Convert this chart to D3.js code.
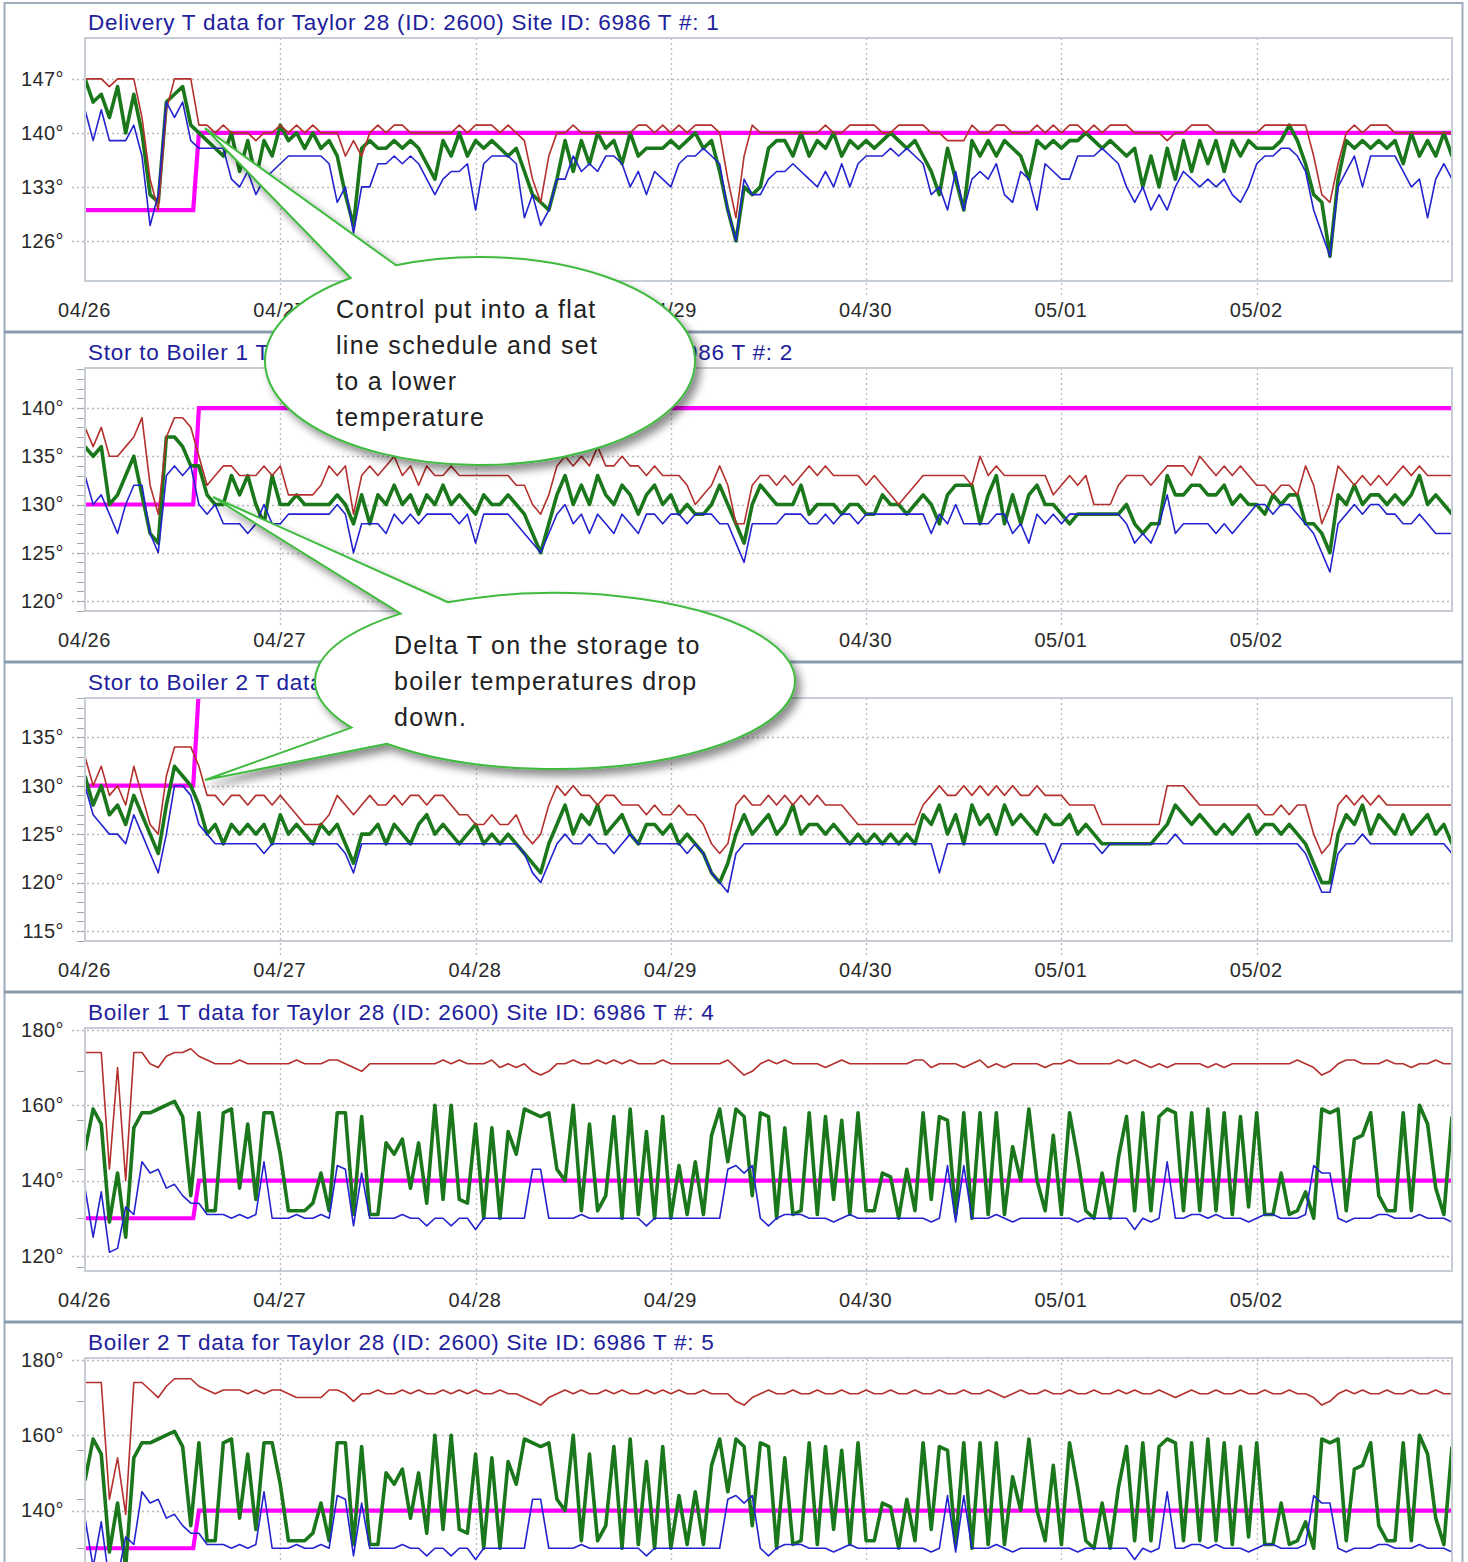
<!DOCTYPE html>
<html>
<head>
<meta charset="utf-8">
<script src="https://cdn.jsdelivr.net/npm/d3@7"></script>
<style>
  html, body { margin: 0; padding: 0; background: #fff; overflow: hidden; }
  svg { display: block; }
  text { font-family: Arial, "Liberation Sans", sans-serif; }
</style>
</head>
<body>
<svg id="chart" width="1468" height="1562"></svg>
<script>
// ---------- axis labels ----------
const dayLabels = ["04/26", "04/27", "04/28", "04/29", "04/30", "05/01", "05/02"];
const dayHours = [0, 24, 48, 72, 96, 120, 144];

const titles = [
  "Delivery T data for Taylor 28 (ID: 2600) Site ID: 6986 T #: 1",
  "Stor to Boiler 1 T data for Taylor 28 (ID: 2600) Site ID: 6986 T #: 2",
  "Stor to Boiler 2 T data for Taylor 28 (ID: 2600) Site ID: 6986 T #: 3",
  "Boiler 1 T data for Taylor 28 (ID: 2600) Site ID: 6986 T #: 4",
  "Boiler 2 T data for Taylor 28 (ID: 2600) Site ID: 6986 T #: 5"
];

const yTicks1 = [126, 133, 140, 147];
const yTicks2 = [120, 125, 130, 135, 140];
const yTicks3 = [115, 120, 125, 130, 135];
const yTicks4 = [120, 140, 160, 180];
const yTicks5 = [140, 160, 180];          // the lower part of this panel runs off the page
const minorTicks4 = [117, 130, 143, 156, 169];

// day labels that sit fully underneath a note bubble
const coveredDays = [[2], [2, 3], [], [], []];

// ---------- setpoint (magenta) steps: hour of change and value ----------
const setpointHours = [0, 13.3, 14, 168];
const setpoint1 = [130, 130, 140, 140];
const setpoint2 = [130, 130, 140, 140];
const setpoint3 = [130, 130, 140, 140];
const setpoint4 = [130, 130, 140, 140];
const setpoint5 = [130, 130, 140, 140];

// ---------- hourly readings, 04/26 00:00 .. 05/03 00:00 ----------
// Delivery
const red1 = [
147,147,147,146,147,147,147,142,134,130,
143,147,147,147,141,141,140,141,140,140,
140,139,140,140,141,140,141,140,141,140,
140,140,137,139,137,140,141,140,141,141,
140,140,140,140,140,140,141,140,141,141,
141,140,141,140,139,134,131,137,140,140,
141,140,140,140,140,140,140,140,141,141,
140,141,140,141,140,141,141,141,140,134,
129,137,141,140,140,140,140,140,140,140,
140,141,140,140,141,141,141,141,140,140,
141,141,141,141,140,140,139,139,139,141,
140,140,141,141,140,140,140,141,140,141,
140,141,141,140,141,140,141,141,141,140,
140,140,140,139,140,140,141,141,141,140,
140,140,140,140,140,141,141,141,141,141,
141,137,132,131,136,140,141,140,141,141,
141,140,140,140,140,140,140,140,140];
const green1 = [
147,144,145,142,146,140,145,140,132,131,
144,145,146,141,140,139,138,137,140,135,
139,134,139,137,141,139,140,138,140,138,
139,137,132,128,138,139,138,138,139,138,
139,138,136,134,139,137,140,137,139,138,
139,138,137,138,135,132,131,130,134,139,
135,139,136,140,138,139,136,140,137,138,
138,138,139,138,139,140,138,139,135,130,
126,133,132,133,138,139,139,137,140,137,
139,138,140,137,139,138,139,138,139,140,
139,138,139,137,135,132,138,134,130,139,
137,139,137,139,138,137,134,139,138,139,
138,139,139,140,139,138,139,138,137,138,
133,137,133,138,134,139,135,139,136,139,
135,139,137,139,138,138,138,139,141,139,
136,132,131,124,134,139,138,139,138,139,
138,139,136,140,137,139,137,140,137];
const blue1 = [
143,139,143,139,139,139,141,137,128,132,
144,142,144,139,138,138,138,138,134,133,
135,132,134,135,136,137,137,137,137,137,
136,131,133,127,133,133,136,136,137,136,
137,136,134,132,134,135,135,136,130,136,
137,137,137,136,129,132,128,130,134,134,
137,135,136,135,137,137,136,133,135,132,
135,134,133,136,137,137,138,137,136,130,
126,134,132,132,134,135,135,136,135,134,
133,135,133,136,133,136,137,137,137,138,
137,138,137,136,132,133,130,135,130,134,
135,134,136,132,131,135,134,130,136,135,
134,134,137,137,137,138,137,136,133,131,
133,130,132,130,133,135,134,133,134,133,
134,132,131,133,136,137,137,138,138,137,
135,130,127,124,133,135,137,133,137,137,
137,137,135,133,134,129,134,136,134];

// Storage to boiler 1
const red2 = [
138,136,138,135,135,136,137,139,132,129,
137,139,139,138,135,132,133,134,134,133,
133,133,134,133,134,131,131,131,131,132,
134,133,134,129,133,134,133,134,135,133,
134,132,134,133,133,134,133,133,133,133,
133,133,133,132,132,130,129,131,134,135,
134,135,134,136,134,134,135,134,134,133,
134,133,133,133,132,130,131,132,134,132,
128,128,132,133,133,132,133,132,133,134,
133,134,133,133,133,133,132,133,132,131,
130,131,132,133,133,133,133,133,133,132,
135,133,134,133,133,133,133,133,133,131,
132,133,132,133,130,130,130,132,133,133,
133,132,133,134,134,134,133,135,134,133,
134,133,134,133,132,132,131,132,132,131,
134,132,128,130,134,133,132,133,132,133,
132,133,134,133,134,133,133,133,133];
const green2 = [
136,135,136,130,131,133,135,131,127,126,
137,137,136,134,134,131,130,130,133,131,
133,130,128,133,130,130,131,130,130,130,
130,131,130,128,131,128,131,130,132,130,
131,129,131,130,132,130,131,130,129,131,
130,130,131,130,129,127,125,128,131,133,
130,132,130,133,131,130,132,131,129,131,
132,130,131,129,130,129,129,130,132,130,
128,126,130,132,131,130,130,130,132,129,
130,130,130,129,130,130,129,129,131,130,
130,129,130,131,130,128,131,132,132,132,
128,131,133,128,131,128,131,132,130,130,
129,128,129,129,129,129,129,129,130,128,
127,128,128,133,131,131,132,132,131,131,
132,130,131,130,130,129,131,130,131,131,
128,128,127,125,131,130,132,130,131,131,
130,131,130,131,133,130,131,130,129];
const blue2 = [
133,130,131,129,127,130,132,132,127,125,
133,134,133,134,130,129,130,128,128,128,
127,128,130,128,128,129,129,129,129,129,
129,130,129,125,128,128,128,127,129,128,
129,128,129,129,129,129,128,129,126,129,
129,129,129,128,127,126,125,127,129,130,
128,129,127,129,128,127,129,128,127,129,
129,128,129,129,128,129,129,129,128,128,
126,124,128,128,128,128,129,129,129,128,
128,129,128,129,129,128,129,129,129,129,
129,129,129,129,127,129,128,130,128,128,
128,128,129,129,127,128,126,129,128,129,
128,129,129,129,129,129,129,129,128,126,
127,126,128,131,127,128,128,128,128,127,
128,127,128,129,130,130,129,130,130,129,
128,127,125,123,128,129,130,129,130,130,
129,129,128,128,129,128,127,127,127];

// Storage to boiler 2
const red3 = [
133,130,132,129,130,128,132,129,126,125,
131,134,134,134,132,129,129,128,129,129,
128,129,129,128,129,128,127,126,126,126,
127,129,128,127,128,129,128,128,129,128,
129,129,128,129,129,128,127,127,126,126,
127,126,126,127,125,124,125,128,130,129,
130,129,129,128,129,129,128,128,128,127,
128,127,127,128,127,127,126,124,123,124,
128,129,128,128,129,128,129,128,129,128,
129,128,128,128,127,126,126,126,126,126,
126,126,126,128,129,130,129,129,130,129,
130,129,130,129,130,129,129,130,129,129,
129,128,128,128,128,126,126,126,126,126,
126,126,126,130,130,130,129,128,128,128,
128,128,128,128,128,127,127,128,127,128,
128,125,123,124,128,129,128,129,128,129,
128,128,128,128,128,128,128,128,128];
const green3 = [
131,128,130,127,128,126,129,127,125,123,
128,132,131,130,128,125,126,124,126,125,
126,125,126,124,127,125,126,125,124,126,
125,126,124,122,125,125,126,124,126,125,
124,126,127,125,126,125,124,125,126,124,
125,124,125,124,123,122,121,124,126,128,
125,127,126,128,125,126,127,125,124,126,
126,125,126,124,125,124,123,121,120,122,
125,127,125,126,127,125,126,128,125,126,
126,125,126,125,124,125,124,125,124,125,
124,125,124,127,126,128,125,127,124,128,
126,127,125,128,126,127,126,125,127,126,
126,127,125,126,125,124,124,124,124,124,
124,124,125,126,128,127,126,127,126,125,
126,125,126,127,125,126,126,125,126,125,
124,122,120,120,125,127,126,128,125,127,
126,125,127,125,126,127,125,126,124];
const blue3 = [
130,127,126,125,125,124,127,125,123,121,
125,130,130,129,126,125,124,124,124,124,
124,124,123,124,124,124,124,124,124,124,
124,124,123,121,124,124,124,124,124,124,
124,124,124,124,124,124,124,124,124,124,
124,124,124,124,123,121,120,122,124,125,
124,124,125,124,124,123,124,125,124,124,
124,124,124,124,123,124,123,121,120,119,
123,124,124,124,124,124,124,124,124,124,
124,124,124,124,124,124,124,124,124,124,
124,124,124,124,124,121,124,124,124,124,
124,124,124,124,124,124,124,124,124,122,
124,124,124,124,124,123,124,124,124,124,
124,124,124,124,125,124,124,124,124,124,
124,124,124,124,124,124,124,124,124,124,
123,121,119,119,123,124,124,125,124,124,
124,124,124,124,124,124,124,124,123];

// Boiler 1
const red4 = [
174,174,174,143,170,140,174,174,171,170,
173,174,174,175,173,172,171,171,171,172,
171,171,171,171,171,171,172,171,171,171,
172,172,171,170,169,171,171,171,171,171,
171,171,171,171,172,171,172,171,171,171,
172,170,171,170,171,169,168,169,171,171,
172,171,171,172,171,172,171,172,171,171,
171,172,171,171,171,171,171,171,171,172,
170,168,169,171,172,171,172,171,171,171,
171,170,171,172,171,171,171,171,171,171,
171,171,172,172,170,171,171,171,170,171,
172,170,171,170,171,171,171,171,170,171,
171,172,171,171,171,171,171,172,171,172,
171,170,171,170,171,171,171,171,170,171,
170,171,171,171,171,171,171,171,171,172,
171,170,168,169,171,172,172,171,171,171,
172,171,171,170,171,171,172,171,171];
const green4 = [
148,159,155,129,142,125,154,158,158,159,
160,161,157,136,158,132,132,158,159,138,
155,135,158,158,147,132,132,132,134,142,
132,158,158,131,157,131,131,150,147,151,
138,150,134,160,135,160,135,134,155,130,
154,130,153,147,159,158,157,158,143,140,
160,132,155,132,136,157,130,159,131,153,
130,157,130,144,131,145,131,152,159,145,
159,157,136,158,157,130,154,131,132,158,
131,157,135,156,131,158,132,132,142,141,
130,143,132,158,135,157,156,131,158,130,
158,131,158,131,149,140,159,140,132,152,
131,158,146,132,130,142,130,146,157,132,
158,132,157,159,158,132,158,132,159,132,
158,131,157,133,158,131,131,142,131,132,
137,130,159,158,159,132,151,152,158,136,
132,132,158,132,160,155,138,131,157];
const blue4 = [
138,125,137,121,122,133,131,145,142,143,
138,139,136,134,134,131,131,131,130,131,
130,131,145,130,130,130,131,130,130,131,
130,144,143,128,142,130,130,130,130,131,
130,130,128,130,130,128,130,130,127,130,
130,130,130,130,130,143,143,130,130,130,
130,131,130,130,130,130,130,130,130,128,
130,130,130,130,130,130,130,130,130,143,
144,142,144,130,128,130,131,131,131,130,
130,130,129,130,131,130,130,130,130,130,
130,130,130,130,129,130,144,129,144,130,
130,130,131,130,129,130,130,130,130,130,
130,130,129,130,130,130,130,130,130,127,
130,129,130,145,130,130,131,131,130,131,
130,130,130,129,130,131,131,130,130,130,
131,144,142,142,130,129,130,130,130,131,
131,130,130,130,131,130,130,130,129];

// Boiler 2
const red5 = [
174,174,174,143,154,139,174,174,172,170,
173,175,175,175,173,172,171,172,172,172,
171,172,171,172,172,171,170,170,170,170,
172,172,171,169,171,171,172,171,171,172,
171,172,171,171,172,171,172,171,172,171,
171,172,171,171,170,169,168,170,171,172,
171,172,171,171,172,171,172,171,171,172,
171,172,171,172,171,171,172,171,171,171,
169,168,170,171,172,171,171,172,171,171,
172,171,171,172,171,171,172,171,171,172,
171,171,172,171,171,172,171,171,172,171,
171,172,171,170,171,172,171,171,172,171,
171,172,171,171,172,171,171,172,171,172,
171,171,172,171,170,171,172,171,171,172,
171,171,172,171,171,172,171,171,172,171,
171,170,168,169,171,172,171,172,171,171,
172,171,171,172,171,171,172,171,171];
const green5 = [
148,159,155,129,142,125,154,158,158,159,
160,161,157,136,158,132,132,158,159,138,
155,135,158,158,147,132,132,132,134,142,
132,158,158,131,157,131,131,150,147,151,
138,150,134,160,135,160,135,134,155,130,
154,130,153,147,159,158,157,158,143,140,
160,132,155,132,136,157,130,159,131,153,
130,157,130,144,131,145,131,152,159,145,
159,157,136,158,157,130,154,131,132,158,
131,157,135,156,131,158,132,132,142,141,
130,143,132,158,135,157,156,131,158,130,
158,131,158,131,149,140,159,140,132,152,
131,158,146,132,130,142,130,146,157,132,
158,132,157,159,158,132,158,132,159,132,
158,131,157,133,158,131,131,142,131,132,
137,130,159,158,159,132,151,152,158,136,
132,132,158,132,160,155,138,131,157];
const blue5 = [
138,125,137,121,122,133,131,145,142,143,
138,139,136,134,134,131,131,131,130,131,
130,131,145,130,130,130,131,130,130,131,
130,144,143,128,142,130,130,130,130,131,
130,130,128,130,130,128,130,130,127,130,
130,130,130,130,130,143,143,130,130,130,
130,131,130,130,130,130,130,130,130,128,
130,130,130,130,130,130,130,130,130,143,
144,142,144,130,128,130,131,131,131,130,
130,130,129,130,131,130,130,130,130,130,
130,130,130,130,129,130,144,129,144,130,
130,130,131,130,129,130,130,130,130,130,
130,130,129,130,130,130,130,130,130,127,
130,129,130,145,130,130,131,131,130,131,
130,130,130,129,130,131,131,130,130,130,
131,144,142,142,130,129,130,130,130,131,
131,130,130,130,131,130,130,130,129];

// ---------- layout ----------
const PANEL_H = 330;
const PAGE_H = 1562;
const plot = { left: 85, right: 1452, top: 38, bottom: 281 };
const colors = { setpoint: "#ff00ff", red: "#b3302c", green: "#1b771b", blue: "#2323cf",
                 title: "#21219c", label: "#2a2a2a", grid: "#b9b9b9", frame: "#c6cdd5" };

const panels = [
  { title: titles[0], domain: [120.8, 152.3], ticks: yTicks1, minor: [],
    sp: setpoint1, red: red1, green: green1, blue: blue1 },
  { title: titles[1], domain: [118.96, 144.15], ticks: yTicks2, minor: d3.range(119, 145),
    sp: setpoint2, red: red2, green: green2, blue: blue2 },
  { title: titles[2], domain: [113.97, 139.05], ticks: yTicks3, minor: d3.range(114, 140),
    sp: setpoint3, red: red3, green: green3, blue: blue3 },
  { title: titles[3], domain: [116.0, 180.5], ticks: yTicks4, minor: minorTicks4,
    sp: setpoint4, red: red4, green: green4, blue: blue4 },
  { title: titles[4], domain: [116.0, 180.5], ticks: yTicks5, minor: minorTicks4,
    sp: setpoint5, red: red5, green: green5, blue: blue5 }
];

const svg = d3.select("#chart");
const x = d3.scaleLinear().domain([0, 168]).range([plot.left, plot.right]);

const defs = svg.append("defs");
defs.append("clipPath").attr("id", "plotClip")
  .append("rect")
  .attr("x", plot.left).attr("y", plot.top)
  .attr("width", plot.right - plot.left).attr("height", plot.bottom - plot.top);

const shadow = defs.append("filter").attr("id", "bubbleShadow")
  .attr("x", "-20%").attr("y", "-20%").attr("width", "150%").attr("height", "160%");
shadow.append("feGaussianBlur").attr("in", "SourceAlpha").attr("stdDeviation", 4);
shadow.append("feOffset").attr("dx", 5).attr("dy", 6).attr("result", "off");
shadow.append("feComponentTransfer").append("feFuncA").attr("type", "linear").attr("slope", 0.45);
const merge = shadow.append("feMerge");
merge.append("feMergeNode");
merge.append("feMergeNode").attr("in", "SourceGraphic");

svg.append("rect").attr("width", 1468).attr("height", PAGE_H).attr("fill", "#fff");

panels.forEach((p, i) => {
  const top = i * PANEL_H;
  const g = svg.append("g").attr("transform", `translate(0,${top})`);
  const y = d3.scaleLinear().domain(p.domain).range([plot.bottom, plot.top]);

  // horizontal dotted grid
  g.append("g").selectAll("line").data(p.ticks).join("line")
    .attr("x1", 72).attr("x2", plot.right)
    .attr("y1", d => Math.round(y(d)) + 0.5).attr("y2", d => Math.round(y(d)) + 0.5)
    .attr("stroke", colors.grid).attr("stroke-width", 1.3).attr("stroke-dasharray", "2,3");

  // vertical dotted grid at day boundaries
  g.append("g").selectAll("line").data(dayHours.slice(1)).join("line")
    .attr("x1", d => Math.round(x(d)) + 0.5).attr("x2", d => Math.round(x(d)) + 0.5)
    .attr("y1", plot.top).attr("y2", plot.bottom + 15)
    .attr("stroke", colors.grid).attr("stroke-width", 1.3).attr("stroke-dasharray", "2,3");

  // minor ticks on the left edge
  g.append("g").selectAll("line").data(p.minor).join("line")
    .attr("x1", 77).attr("x2", plot.left)
    .attr("y1", d => Math.round(y(d)) + 0.5).attr("y2", d => Math.round(y(d)) + 0.5)
    .attr("stroke", "#a8a8a8").attr("stroke-width", 1);

  // series, clipped to the plot area
  const clip = g.append("g").attr("clip-path", "url(#plotClip)");
  const lineH = d3.line().x((d, k) => x(k)).y(d => y(d));
  const lineSp = d3.line().x((d, k) => x(setpointHours[k])).y(d => y(d));

  clip.append("path").attr("d", lineSp(p.sp))
    .attr("fill", "none").attr("stroke", colors.setpoint).attr("stroke-width", 4.2);
  clip.append("path").attr("d", lineH(p.green))
    .attr("fill", "none").attr("stroke", colors.green).attr("stroke-width", 3.6)
    .attr("stroke-linejoin", "round");
  clip.append("path").attr("d", lineH(p.red))
    .attr("fill", "none").attr("stroke", colors.red).attr("stroke-width", 1.6)
    .attr("stroke-linejoin", "round");
  clip.append("path").attr("d", lineH(p.blue))
    .attr("fill", "none").attr("stroke", colors.blue).attr("stroke-width", 1.6)
    .attr("stroke-linejoin", "round");

  // plot frame
  g.append("rect")
    .attr("x", plot.left).attr("y", plot.top)
    .attr("width", plot.right - plot.left).attr("height", plot.bottom - plot.top)
    .attr("fill", "none").attr("stroke", colors.frame).attr("stroke-width", 2);

  // y axis labels
  const yAxis = g.append("g").attr("transform", `translate(${plot.left},0)`)
    .call(d3.axisLeft(y).tickValues(p.ticks).tickSize(0).tickPadding(21).tickFormat(d => d + "°"));
  yAxis.select(".domain").remove();
  yAxis.selectAll("text")
    .attr("font-family", "Arial, 'Liberation Sans', sans-serif")
    .attr("font-size", 20).attr("fill", colors.label).attr("letter-spacing", 0.4);

  // x axis labels (only where they fall on the page and are not under a note)
  if (top + plot.bottom + 40 < PAGE_H) {
    const xAxis = g.append("g").attr("transform", `translate(-1,${plot.bottom})`)
      .call(d3.axisBottom(x).tickValues(dayHours).tickSize(0).tickPadding(22)
        .tickFormat((d, k) => dayLabels[k]));
    xAxis.select(".domain").remove();
    xAxis.selectAll(".tick").filter((d, k) => coveredDays[i].includes(k)).remove();
    xAxis.selectAll("text")
      .attr("font-family", "Arial, 'Liberation Sans', sans-serif")
      .attr("font-size", 20).attr("fill", colors.label).attr("letter-spacing", 0.6);
  }

  // title
  g.append("text").attr("x", 88).attr("y", 30)
    .attr("font-size", 22.5).attr("letter-spacing", 0.75).attr("fill", colors.title)
    .text(p.title);
});

// outer frame and panel separators
svg.append("rect").attr("x", 4.5).attr("y", 3).attr("width", 1458).attr("height", 1600)
  .attr("fill", "none").attr("stroke", "#9dabbc").attr("stroke-width", 2);
svg.append("g").selectAll("line").data([1, 2, 3, 4]).join("line")
  .attr("x1", 4).attr("x2", 1463)
  .attr("y1", d => d * PANEL_H + 2).attr("y2", d => d * PANEL_H + 2)
  .attr("stroke", "#8c9caf").attr("stroke-width", 3);

// ---------- speech-bubble notes ----------
function bubblePath(cx, cy, rx, ry, tails) {
  const pt = a => [cx + rx * Math.cos(a * Math.PI / 180), cy + ry * Math.sin(a * Math.PI / 180)];
  let d = "";
  tails.forEach((t, k) => {
    const p0 = pt(t.a0), p1 = pt(t.a1);
    if (k === 0) d += `M${p0[0]},${p0[1]}`;
    d += `L${t.tip[0]},${t.tip[1]}L${p1[0]},${p1[1]}`;
    const next = k < tails.length - 1 ? tails[k + 1].a0 : tails[0].a0 - 360;
    const span = t.a1 - next;
    const q = pt(next);
    d += `A${rx},${ry} 0 ${span > 180 ? 1 : 0} 0 ${q[0]},${q[1]}`;
  });
  return d + "Z";
}

const notes = [
  { cx: 480, cy: 361, rx: 215, ry: 104,
    tails: [{ a0: -113, a1: -127, tip: [205, 128] }],
    textX: 336, textY: 318,
    lines: ["Control put into a flat", "line schedule and set", "to a lower", "temperature"] },
  { cx: 555, cy: 681, rx: 240, ry: 88,
    tails: [{ a0: -116.5, a1: -130, tip: [213, 497] }, { a0: -212, a1: -225.5, tip: [205, 780] }],
    textX: 394, textY: 654,
    lines: ["Delta T on the storage to", "boiler temperatures drop", "down."] }
];

notes.forEach(n => {
  const g = svg.append("g");
  g.append("path").attr("d", bubblePath(n.cx, n.cy, n.rx, n.ry, n.tails))
    .attr("fill", "#fff").attr("stroke", "#3fbb3f").attr("stroke-width", 2)
    .attr("stroke-linejoin", "miter").attr("filter", "url(#bubbleShadow)");
  g.append("g").selectAll("text").data(n.lines).join("text")
    .attr("x", n.textX).attr("y", (d, k) => n.textY + k * 36)
    .attr("font-size", 25).attr("letter-spacing", 1.3).attr("fill", "#222")
    .text(d => d);
});
</script>
</body>
</html>
